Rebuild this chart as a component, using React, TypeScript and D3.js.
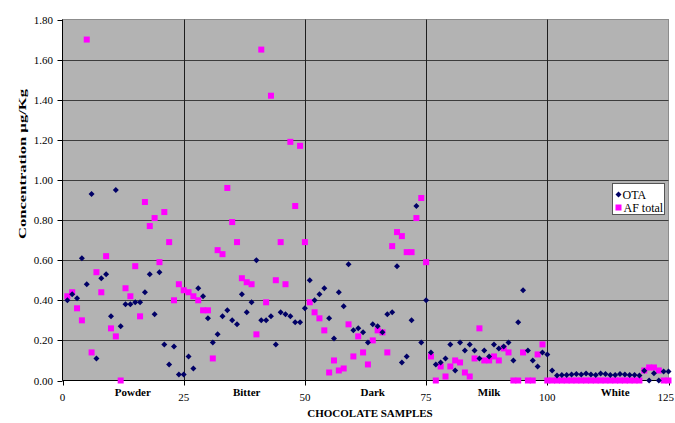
import React, { useEffect, useRef } from 'react';
import * as d3 from 'd3';

// OTA and AF total per chocolate sample (sample number = position + 1)
const ota = [
  0.40, 0.43, 0.41, 0.61, 0.48, 0.93, 0.11, 0.51, 0.53, 0.32,
  0.95, 0.27, 0.38, 0.38, 0.39, 0.39, 0.44, 0.53, 0.33, 0.54,
  0.18, 0.08, 0.17, 0.03, 0.03, 0.12, 0.06, 0.46, 0.42, 0.31,
  0.19, 0.23, 0.32, 0.35, 0.30, 0.28, 0.43, 0.34, 0.39, 0.60,
  0.30, 0.30, 0.32, 0.18, 0.34, 0.33, 0.32, 0.29, 0.29, 0.36,
  0.50, 0.40, 0.43, 0.46, 0.31, 0.21, 0.44, 0.37, 0.58, 0.25,
  0.26, 0.24, 0.19, 0.28, 0.27, 0.24, 0.33, 0.34, 0.57, 0.09,
  0.12, 0.30, 0.87, 0.19, 0.40, 0.14, 0.08, 0.09, 0.11, 0.18,
  0.05, 0.19, 0.15, 0.18, 0.15, 0.11, 0.15, 0.12, 0.18, 0.16,
  0.17, 0.19, 0.10, 0.29, 0.45, 0.15, 0.10, 0.07, 0.14, 0.13,
  0.05, 0.025,
  0.028, 0.028, 0.03, 0.033, 0.03, 0.035, 0.03, 0.028, 0.035, 0.033,
  0.028, 0.028, 0.033, 0.03, 0.028, 0.028, 0.025,
  0.048, 0.0, 0.036, 0.0, 0.045, 0.045
];

const afTotal = [
  0.42, 0.44, 0.36, 0.30, 1.70, 0.14, 0.54, 0.44, 0.62, 0.26,
  0.22, 0.00, 0.46, 0.42, 0.57, 0.32, 0.89, 0.77, 0.81, 0.59,
  0.84, 0.69, 0.40, 0.48, 0.45, 0.44, 0.42, 0.40, 0.35, 0.35,
  0.11, 0.65, 0.63, 0.96, 0.79, 0.69, 0.51, 0.49, 0.48, 0.23,
  1.65, 0.39, 1.42, 0.50, 0.69, 0.48, 1.19, 0.87, 1.17, 0.69,
  0.39, 0.34, 0.31, 0.25, 0.04, 0.10, 0.05, 0.06, 0.28, 0.12,
  0.22, 0.14, 0.08, 0.20, 0.25, 0.24, 0.14, 0.67, 0.74, 0.72,
  0.64, 0.64, 0.81, 0.91, 0.59, 0.12, 0.00, 0.07, 0.02, 0.07,
  0.10, 0.09, 0.04, 0.02, 0.11, 0.26, 0.10, 0.10, 0.12, 0.10,
  0.16, 0.14, 0.00, 0.00, 0.14, 0.00, 0.00, 0.13, 0.18, 0.00,
  0, 0, 0, 0, 0, 0, 0, 0, 0, 0,
  0, 0, 0, 0, 0, 0, 0, 0, 0,
  0.05, 0.065, 0.065, 0.05, 0.0, 0.0
];

const yTicks = [0, 0.2, 0.4, 0.6, 0.8, 1.0, 1.2, 1.4, 1.6, 1.8];
const xTicks = [0, 25, 50, 75, 100, 125];
const groups = ['Powder', 'Bitter', 'Dark', 'Milk', 'White'];
const groupPos = [14.5, 38, 64, 88, 114];

const FONT = '"Liberation Serif", "Times New Roman", serif';
const NAVY = '#000066';
const MAGENTA = '#ff00ff';

const App = () => {
  const svgRef = useRef<SVGSVGElement>(null);
  const width = 675;
  const height = 423;

  useEffect(() => {
    const svg = d3.select(svgRef.current);
    svg.selectAll('*').remove();

    const x = d3.scaleLinear().domain([0, 125]).range([62.5, 668.5]);
    const y = d3.scaleLinear().domain([0, 1.8]).range([380.5, 19.5]);

    // zona del gráfico
    svg.append('rect')
      .attr('x', x(0)).attr('y', y(1.8))
      .attr('width', x(125) - x(0)).attr('height', y(0) - y(1.8))
      .attr('fill', '#b3b3b3')
      .attr('stroke', '#8c8c8c');

    // rejilla horizontal
    svg.append('g')
      .selectAll('line')
      .data(yTicks.filter(t => t > 0 && t < 1.8))
      .enter()
      .append('line')
      .attr('x1', x(0)).attr('x2', x(125))
      .attr('y1', d => Math.round(y(d)) + 0.5).attr('y2', d => Math.round(y(d)) + 0.5)
      .attr('stroke', '#3c3c3c');

    // rejilla vertical
    svg.append('g')
      .selectAll('line')
      .data(xTicks.filter(t => t > 0 && t < 125))
      .enter()
      .append('line')
      .attr('x1', d => Math.round(x(d)) + 0.5).attr('x2', d => Math.round(x(d)) + 0.5)
      .attr('y1', y(1.8)).attr('y2', y(0))
      .attr('stroke', '#1e1e1e');

    // ejes
    svg.append('line')
      .attr('x1', x(0)).attr('x2', x(0)).attr('y1', y(1.8)).attr('y2', y(0))
      .attr('stroke', '#000');
    svg.append('line')
      .attr('x1', x(0)).attr('x2', x(125)).attr('y1', y(0)).attr('y2', y(0))
      .attr('stroke', '#000');

    svg.append('g')
      .selectAll('line')
      .data(yTicks)
      .enter()
      .append('line')
      .attr('x1', x(0) - 5).attr('x2', x(0))
      .attr('y1', d => Math.round(y(d)) + 0.5).attr('y2', d => Math.round(y(d)) + 0.5)
      .attr('stroke', '#000');

    svg.append('g')
      .selectAll('line')
      .data(xTicks)
      .enter()
      .append('line')
      .attr('x1', d => Math.round(x(d)) + 0.5).attr('x2', d => Math.round(x(d)) + 0.5)
      .attr('y1', y(0)).attr('y2', y(0) + 5)
      .attr('stroke', '#000');

    svg.append('g')
      .selectAll('text')
      .data(yTicks)
      .enter()
      .append('text')
      .attr('x', 53).attr('y', d => y(d) + 4)
      .attr('text-anchor', 'end')
      .attr('font-family', FONT).attr('font-size', 11)
      .text(d => d.toFixed(2));

    // el último rótulo (125) queda pegado al borde derecho
    svg.append('g')
      .selectAll('text')
      .data(xTicks)
      .enter()
      .append('text')
      .attr('x', d => (d === 125 ? 674 : x(d))).attr('y', 401)
      .attr('text-anchor', d => (d === 125 ? 'end' : 'middle'))
      .attr('font-family', FONT).attr('font-size', 11)
      .text(d => d);

    svg.append('g')
      .selectAll('text')
      .data(groups)
      .enter()
      .append('text')
      .attr('x', (d, i) => x(groupPos[i])).attr('y', 396)
      .attr('text-anchor', 'middle')
      .attr('font-family', FONT).attr('font-size', 11).attr('font-weight', 'bold')
      .text(d => d);

    svg.append('text')
      .attr('x', 370).attr('y', 417)
      .attr('text-anchor', 'middle')
      .attr('font-family', FONT).attr('font-size', 11).attr('font-weight', 'bold')
      .text('CHOCOLATE SAMPLES');

    svg.append('text')
      .attr('transform', 'translate(26,164) rotate(-90)')
      .attr('text-anchor', 'middle')
      .attr('font-family', FONT).attr('font-size', 11).attr('font-weight', 'bold')
      .attr('textLength', 150).attr('lengthAdjust', 'spacingAndGlyphs')
      .text('Concentration µg/Kg');

    // series
    svg.append('g')
      .selectAll('rect')
      .data(afTotal)
      .enter()
      .append('rect')
      .attr('x', (d, i) => x(i + 1) - 3)
      .attr('y', d => y(d) - 3)
      .attr('width', 6).attr('height', 6)
      .attr('fill', MAGENTA);

    const diamond = 'M0,-3L3,0L0,3L-3,0Z';
    svg.append('g')
      .selectAll('path')
      .data(ota)
      .enter()
      .append('path')
      .attr('transform', (d, i) => `translate(${x(i + 1)},${y(d)})`)
      .attr('d', diamond)
      .attr('fill', NAVY);

    // leyenda
    const lg = svg.append('g').attr('transform', 'translate(612.5,183.5)');
    lg.append('rect')
      .attr('width', 52).attr('height', 31)
      .attr('fill', '#fff').attr('stroke', '#555');
    lg.append('path').attr('d', diamond).attr('transform', 'translate(6,11)').attr('fill', NAVY);
    lg.append('rect').attr('x', 3).attr('y', 21).attr('width', 6).attr('height', 6).attr('fill', MAGENTA);
    lg.append('text').attr('x', 10).attr('y', 15)
      .attr('font-family', FONT).attr('font-size', 12).text('OTA');
    lg.append('text').attr('x', 11).attr('y', 28)
      .attr('font-family', FONT).attr('font-size', 12).text('AF total');
  }, []);

  return (
    <div style={{ position: 'absolute', left: 0, top: 0, width, height, background: '#fff' }}>
      <svg ref={svgRef} width={width} height={height} style={{ display: 'block' }} />
    </div>
  );
};

export default App;
